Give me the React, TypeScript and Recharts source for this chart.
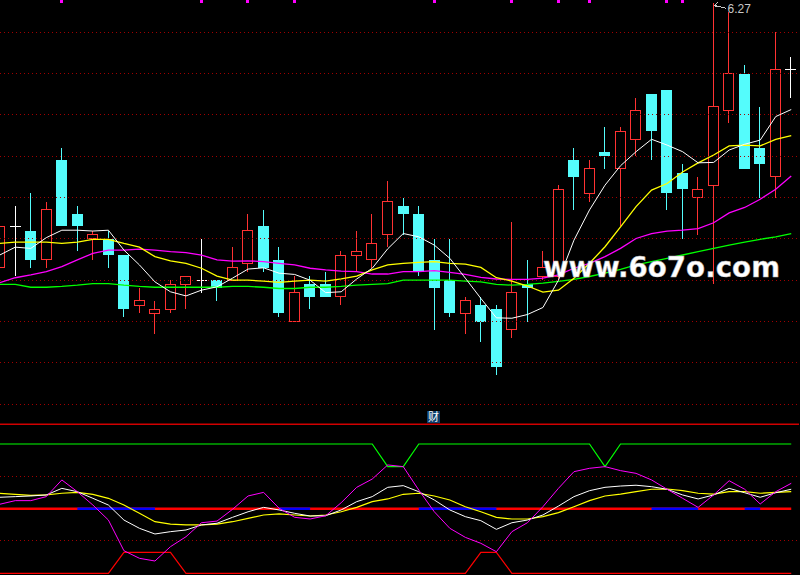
import { ComposedChart, Bar, Line, XAxis, YAxis, ReferenceLine } from "recharts";

// daily candles
const opens = [5.63, 5.73, 5.72, 5.65, 5.89, 5.76, 5.70, 5.70, 5.66, 5.54, 5.52, 5.53, 5.59, 5.60, 5.60, 5.60, 5.64, 5.73, 5.65, 5.50, 5.59, 5.59, 5.56, 5.66, 5.65, 5.71, 5.78, 5.76, 5.65, 5.60, 5.52, 5.54, 5.53, 5.48, 5.59, 5.61, 5.61, 5.89, 5.81, 5.91, 5.87, 5.94, 6.05, 6.06, 5.86, 5.80, 5.83, 6.01, 6.10, 5.92, 5.85, 6.11];
const highs = [5.77, 5.78, 5.81, 5.79, 5.92, 5.78, 5.72, 5.72, 5.66, 5.58, 5.55, 5.60, 5.61, 5.70, 5.60, 5.68, 5.76, 5.77, 5.68, 5.61, 5.61, 5.62, 5.67, 5.72, 5.76, 5.84, 5.80, 5.78, 5.70, 5.70, 5.56, 5.56, 5.54, 5.74, 5.65, 5.67, 5.83, 5.92, 5.89, 5.97, 5.97, 6.04, 6.05, 6.06, 5.88, 5.85, 6.27, 6.25, 6.12, 6.02, 6.20, 6.14];
const lows = [5.62, 5.61, 5.63, 5.63, 5.73, 5.67, 5.65, 5.63, 5.51, 5.52, 5.47, 5.52, 5.53, 5.57, 5.55, 5.60, 5.62, 5.62, 5.51, 5.50, 5.53, 5.56, 5.54, 5.62, 5.63, 5.68, 5.71, 5.61, 5.48, 5.51, 5.47, 5.45, 5.37, 5.46, 5.50, 5.60, 5.60, 5.77, 5.79, 5.87, 5.73, 5.90, 5.89, 5.77, 5.70, 5.71, 5.59, 5.98, 5.87, 5.80, 5.80, 6.04];
const closes = [5.73, 5.73, 5.65, 5.77, 5.73, 5.73, 5.71, 5.66, 5.53, 5.55, 5.53, 5.59, 5.61, 5.60, 5.58, 5.63, 5.72, 5.63, 5.52, 5.57, 5.56, 5.56, 5.66, 5.67, 5.69, 5.79, 5.76, 5.62, 5.58, 5.52, 5.55, 5.50, 5.39, 5.57, 5.58, 5.63, 5.82, 5.85, 5.87, 5.90, 5.96, 6.01, 5.96, 5.81, 5.82, 5.82, 6.02, 6.10, 5.87, 5.88, 6.11, 6.11];

// moving averages as drawn
const ma5 = [5.661, 5.680, 5.677, 5.703, 5.721, 5.721, 5.719, 5.721, 5.673, 5.637, 5.596, 5.572, 5.562, 5.576, 5.584, 5.605, 5.627, 5.630, 5.617, 5.614, 5.600, 5.570, 5.572, 5.603, 5.629, 5.676, 5.713, 5.705, 5.685, 5.653, 5.605, 5.556, 5.509, 5.508, 5.517, 5.534, 5.600, 5.697, 5.770, 5.830, 5.877, 5.911, 5.941, 5.927, 5.911, 5.884, 5.885, 5.915, 5.929, 5.939, 5.996, 6.013];
const ma10 = [5.689, 5.692, 5.692, 5.692, 5.689, 5.692, 5.699, 5.699, 5.689, 5.680, 5.657, 5.647, 5.641, 5.629, 5.610, 5.600, 5.600, 5.598, 5.595, 5.598, 5.600, 5.598, 5.603, 5.610, 5.625, 5.637, 5.641, 5.643, 5.645, 5.641, 5.639, 5.631, 5.606, 5.598, 5.586, 5.571, 5.576, 5.605, 5.641, 5.681, 5.729, 5.778, 5.818, 5.834, 5.862, 5.884, 5.903, 5.925, 5.927, 5.925, 5.941, 5.950];
const ma20 = [5.594, 5.606, 5.613, 5.621, 5.633, 5.649, 5.665, 5.673, 5.673, 5.675, 5.673, 5.669, 5.667, 5.661, 5.649, 5.646, 5.647, 5.645, 5.641, 5.637, 5.629, 5.625, 5.622, 5.621, 5.615, 5.615, 5.621, 5.621, 5.623, 5.619, 5.614, 5.607, 5.603, 5.602, 5.602, 5.605, 5.613, 5.629, 5.641, 5.657, 5.677, 5.701, 5.713, 5.719, 5.721, 5.725, 5.739, 5.763, 5.776, 5.796, 5.820, 5.852];
const ma60 = [5.590, 5.590, 5.583, 5.583, 5.585, 5.588, 5.592, 5.592, 5.588, 5.585, 5.583, 5.583, 5.583, 5.583, 5.583, 5.585, 5.585, 5.583, 5.580, 5.580, 5.583, 5.583, 5.585, 5.588, 5.590, 5.592, 5.600, 5.600, 5.600, 5.600, 5.598, 5.596, 5.590, 5.588, 5.590, 5.593, 5.597, 5.602, 5.609, 5.617, 5.626, 5.637, 5.645, 5.653, 5.661, 5.669, 5.677, 5.685, 5.692, 5.699, 5.705, 5.713];

// magenta signal squares along the top edge
const markIdx = [4, 13, 16, 19, 28, 33, 36, 38, 43, 44];
const MARK_TOP = 6.278;
const MARK_BOTTOM = 6.271;

const priceGrid = [6.2, 6.1, 6.0, 5.9, 5.8, 5.7, 5.6, 5.5, 5.4, 5.3];

// lower "财" indicator panel
const indGreen = [100, 100, 100, 100, 100, 100, 100, 100, 100, 100, 100, 100, 100, 100, 100, 100, 100, 100, 100, 100, 100, 100, 100, 100, 100, 82.5, 82.5, 100, 100, 100, 100, 100, 100, 100, 100, 100, 100, 100, 100, 82.5, 100, 100, 100, 100, 100, 100, 100, 100, 100, 100, 100, 100];
const indRed = [0, 0, 0, 0, 0, 0, 0, 0, 16.2, 16.2, 16.2, 16.2, 0, 0, 0, 0, 0, 0, 0, 0, 0, 0, 0, 0, 0, 0, 0, 0, 0, 0, 0, 16.2, 16.2, 0, 0, 0, 0, 0, 0, 0, 0, 0, 0, 0, 0, 0, 0, 0, 0, 0, 0, 0];
const indMagenta = [53.4, 56.2, 56.2, 59.3, 72.2, 63.1, 52.8, 41.2, 17.5, 11.6, 9.5, 20.6, 28.3, 39.1, 40.4, 49.5, 59.8, 62.6, 50.3, 43.3, 42.0, 44.5, 54.6, 66.5, 72.9, 83.8, 82.5, 64.4, 47.6, 34.8, 27.8, 23.2, 16.7, 32.2, 39.1, 51.5, 65.7, 78.6, 81.2, 82.5, 79.4, 77.3, 72.2, 65.0, 58.0, 51.0, 60.6, 71.6, 65.0, 53.6, 63.1, 69.6];
const indWhite = [58.8, 59.3, 59.8, 60.6, 65.7, 63.1, 58.0, 52.8, 41.2, 34.8, 30.4, 32.2, 33.5, 37.4, 38.7, 43.3, 47.6, 51.0, 49.0, 46.4, 44.3, 44.5, 49.0, 55.4, 59.3, 66.5, 67.8, 63.1, 56.7, 49.0, 43.8, 40.7, 34.0, 39.1, 41.2, 45.1, 52.0, 59.3, 63.9, 66.5, 67.5, 68.1, 67.0, 65.0, 60.6, 57.5, 60.6, 65.7, 62.3, 58.8, 62.3, 65.0];
const indYellow = [61.9, 61.1, 60.3, 60.6, 61.9, 62.6, 61.1, 58.0, 52.8, 46.4, 39.9, 38.1, 37.4, 37.4, 38.1, 39.9, 42.5, 45.1, 45.9, 45.1, 44.3, 45.1, 47.6, 51.0, 55.4, 57.5, 61.1, 61.9, 59.8, 56.7, 51.5, 47.6, 43.3, 42.0, 42.0, 43.8, 46.9, 51.5, 56.2, 59.8, 61.3, 63.1, 65.0, 65.2, 63.9, 61.9, 61.3, 63.1, 63.1, 61.9, 62.6, 63.1];
const MID = 50;
const blueRanges = [[5, 10], [18, 20], [27, 32], [42, 45], [48, 49]];
const indGrid = [75, 25];
const IND_TOP = 115.2;

const maxIdx = highs.indexOf(Math.max(...highs));

const rows = closes.map((c, i) => ({
  i,
  open: opens[i],
  high: highs[i],
  low: lows[i],
  close: c,
  range: [lows[i], highs[i]],
  ma5: ma5[i],
  ma10: ma10[i],
  ma20: ma20[i],
  ma60: ma60[i],
  mark: markIdx.includes(i),
  isMax: i === maxIdx,
}));

const indRows = indGreen.map((g, i) => ({
  i,
  g,
  r: indRed[i],
  m: indMagenta[i],
  w: indWhite[i],
  y: indYellow[i],
  mid: MID,
  midBlue: blueRanges.some(([a, b]) => i >= a && i <= b) ? MID : null,
}));

const UP = "#ff3232";
const DOWN = "#54fcfc";
const GRID = "#a00000";

function Candle(props: any) {
  const { x, y, width, height, payload } = props;
  if (!payload || !Number.isFinite(y) || !Number.isFinite(height)) return null;
  const { open, close, high, low } = payload;
  const top = Math.min(y, y + height);
  const h = Math.abs(height);
  const k = h / (high - low);
  const py = (v: number) => top + (high - v) * k;
  const cx = Math.floor(x + width / 2) + 0.5;
  const parts: any[] = [];

  if (close > open) {
    parts.push(<line key="w1" x1={cx} x2={cx} y1={py(high)} y2={py(close)} stroke={UP} />);
    parts.push(<line key="w2" x1={cx} x2={cx} y1={py(open)} y2={py(low)} stroke={UP} />);
    parts.push(
      <rect key="b" x={cx - 5} y={py(close)} width={10} height={Math.max(1, py(open) - py(close))} fill="none" stroke={UP} />
    );
  } else if (close < open) {
    parts.push(<line key="w" x1={cx} x2={cx} y1={py(high)} y2={py(low)} stroke={DOWN} />);
    parts.push(
      <rect key="b" x={cx - 5.5} y={py(open)} width={11} height={Math.max(1, py(close) - py(open))} fill={DOWN} />
    );
  } else {
    parts.push(<line key="w" x1={cx} x2={cx} y1={py(high)} y2={py(low)} stroke="#ffffff" />);
    parts.push(<line key="b" x1={cx - 5.5} x2={cx + 5.5} y1={py(open)} y2={py(open)} stroke="#ffffff" />);
  }

  if (payload.mark) {
    parts.push(
      <rect key="m" x={cx - 1.5} y={py(MARK_TOP)} width={3} height={py(MARK_BOTTOM) - py(MARK_TOP)} fill="#ff00ff" />
    );
  }

  if (payload.isMax) {
    const hy = py(high);
    parts.push(
      <g key="hi" stroke="#c8c8c8" strokeWidth={1} fill="none">
        <path d={`M${cx + 1},${hy + 2} L${cx + 13},${hy + 5}`} />
        <path d={`M${cx + 4},${hy - 1} L${cx + 1},${hy + 2} L${cx + 4},${hy + 4}`} />
      </g>
    );
    parts.push(
      <text key="ht" x={cx + 14} y={hy + 9.5} fill="#c8c8c8" fontSize={12} fontFamily="Liberation Sans, Arial, sans-serif">
        {high.toFixed(2)}
      </text>
    );
  }

  return <g shapeRendering="crispEdges">{parts}</g>;
}

const CHART_W = 807;
const CHART_LEFT = -8.5;

export default function App() {
  return (
    <div style={{ position: "fixed", left: 0, top: 0, width: 800, height: 575, background: "#000", overflow: "hidden" }}>
      <div style={{ position: "absolute", left: CHART_LEFT, top: 0 }}>
        <ComposedChart width={CHART_W} height={410} data={rows} margin={{ top: 0, right: 0, bottom: 0, left: 0 }}>
          <XAxis dataKey="i" hide scale="band" />
          <YAxis hide type="number" domain={[5.286, 6.278]} allowDataOverflow />
          {priceGrid.map((g) => (
            <ReferenceLine key={g} y={g} stroke={GRID} strokeDasharray="1 3" shapeRendering="crispEdges" />
          ))}
          <Bar dataKey="range" barSize={11} isAnimationActive={false} shape={(p: any) => <Candle {...p} />} />
          <Line dataKey="ma60" stroke="#00ff00" strokeWidth={1.3} dot={false} activeDot={false} isAnimationActive={false} />
          <Line dataKey="ma20" stroke="#ff00ff" strokeWidth={1.3} dot={false} activeDot={false} isAnimationActive={false} />
          <Line dataKey="ma10" stroke="#ffff00" strokeWidth={1.3} dot={false} activeDot={false} isAnimationActive={false} />
          <Line dataKey="ma5" stroke="#ffffff" strokeWidth={1} dot={false} activeDot={false} isAnimationActive={false} />
        </ComposedChart>
      </div>

      <div style={{ position: "absolute", left: CHART_LEFT, top: 420 }}>
        <ComposedChart width={CHART_W} height={155} data={indRows} margin={{ top: 0, right: 0, bottom: 0, left: 0 }}>
          <XAxis dataKey="i" hide scale="band" />
          <YAxis hide type="number" domain={[-1.31, 118.56]} allowDataOverflow />
          <ReferenceLine y={IND_TOP} stroke="#d00000" strokeWidth={1.5} />
          {indGrid.map((g) => (
            <ReferenceLine key={g} y={g} stroke={GRID} strokeDasharray="1 3" shapeRendering="crispEdges" />
          ))}
          <Line dataKey="mid" stroke="#ff0000" strokeWidth={2.5} dot={false} activeDot={false} isAnimationActive={false} />
          <Line dataKey="midBlue" stroke="#0000ff" strokeWidth={2.5} dot={false} activeDot={false} connectNulls={false} isAnimationActive={false} />
          <Line dataKey="g" stroke="#00ff00" strokeWidth={1.2} dot={false} activeDot={false} isAnimationActive={false} />
          <Line dataKey="r" stroke="#ff0000" strokeWidth={1.2} dot={false} activeDot={false} isAnimationActive={false} />
          <Line dataKey="y" stroke="#ffff00" strokeWidth={1.2} dot={false} activeDot={false} isAnimationActive={false} />
          <Line dataKey="w" stroke="#ffffff" strokeWidth={1} dot={false} activeDot={false} isAnimationActive={false} />
          <Line dataKey="m" stroke="#ff00ff" strokeWidth={1} dot={false} activeDot={false} isAnimationActive={false} />
        </ComposedChart>
      </div>

      <svg width={800} height={575} style={{ position: "absolute", left: 0, top: 0, pointerEvents: "none" }}>
        <rect x={427} y={411} width={13} height={12} fill="#0b3d6b" />
        <text x={433.5} y={421} textAnchor="middle" fill="#ffffff" fontSize={11} fontFamily="Noto Sans CJK SC, sans-serif">
          财
        </text>
        <text
          x={543}
          y={277}
          fill="#ffffff"
          stroke="#b0b0b0"
          strokeWidth={0.5}
          fontSize={28}
          fontWeight="bold"
          fontFamily="DejaVu Sans, sans-serif"
          textLength={237}
          lengthAdjust="spacingAndGlyphs"
        >
          www.6o7o.com
        </text>
      </svg>
    </div>
  );
}
